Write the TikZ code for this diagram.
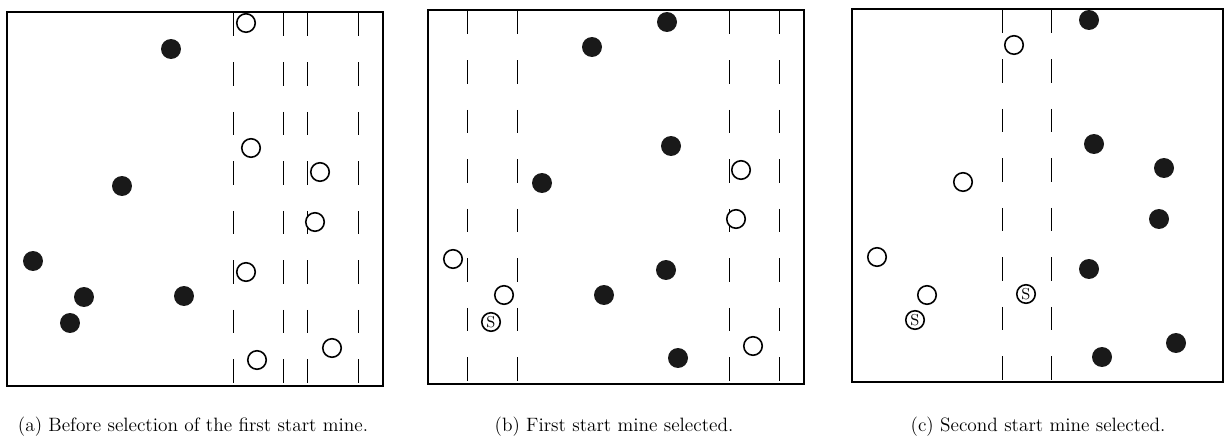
\documentclass[tikz,border=0pt]{standalone}
\usepackage{tikz}
\usetikzlibrary{positioning}
\tikzset{
  minefull/.style={circle,fill=black!90,inner sep=0pt,minimum size=0.4cm},
  mineopen/.style={circle,draw=black,line width=0.9pt,fill=white,inner sep=0pt,
    minimum size=0.37cm},
  minestart/.style={circle,draw=black,line width=0.9pt,fill=white,inner sep=0pt,
    minimum size=0.37cm,font=\small},
  fieldbox/.style={draw=black,line width=0.6pt},
  zoneline/.style={draw=black,line width=0.55pt,dash pattern=on 0.47cm off 0.52cm},
  caption/.style={font=\fontsize{11}{13}\selectfont,inner sep=0pt}
}

\begin{document}
\begin{tikzpicture}[x=0.02cm,y=-0.02cm]
\useasboundingbox (0,0) rectangle (1225,439);

% (a) before selection
\draw[fieldbox] (7,12) rectangle (383,386);
\draw[zoneline] (233,13) -- (233,386);
\draw[zoneline] (283,13) -- (283,386);
\draw[zoneline] (307,13) -- (307,386);
\draw[zoneline] (358,13) -- (358,386);

\node[minefull] (a1) at (171,49) {};
\node[minefull] (a2) at (122,186) {};
\node[minefull] (a3) at (33,261) {};
\node[minefull] (a4) at (84,297) {};
\node[minefull] (a5) at (70,323) {};
\node[minefull] (a6) at (184,296) {};
\node[mineopen] (a7) at (246,23) {};
\node[mineopen] (a8) at (251,148) {};
\node[mineopen] (a9) at (320,172) {};
\node[mineopen] (a10) at (315,222) {};
\node[mineopen] (a11) at (246,272) {};
\node[mineopen] (a12) at (257,360) {};
\node[mineopen] (a13) at (332,348) {};

\node[caption] (capa) at (193,427) {(a) Before selection of the first start mine.};

% (b) first start mine
\draw[fieldbox] (428,10) rectangle (804,384);
\draw[zoneline] (467,11) -- (467,384);
\draw[zoneline] (517,11) -- (517,384);
\draw[zoneline] (729,11) -- (729,384);
\draw[zoneline] (779,11) -- (779,384);

\node[minefull] (b1) at (667,22) {};
\node[minefull] (b2) at (592,47) {};
\node[minefull] (b3) at (671,146) {};
\node[minefull] (b4) at (542,183) {};
\node[minefull] (b5) at (666,270) {};
\node[minefull] (b6) at (604,295) {};
\node[minefull] (b7) at (678,358) {};
\node[mineopen] (b8) at (741,170) {};
\node[mineopen] (b9) at (736,219) {};
\node[mineopen] (b10) at (453,259) {};
\node[mineopen] (b11) at (504,295) {};
\node[mineopen] (b12) at (753,346) {};
\node[minestart] (bs1) at (491,322) {S};

\node[caption] (capb) at (614,427) {(b) First start mine selected.};

% (c) second start mine
\draw[fieldbox] (852,9) rectangle (1223,382);
\draw[zoneline] (1002,10) -- (1002,382);
\draw[zoneline] (1051,10) -- (1051,382);

\node[minefull] (c1) at (1089,20) {};
\node[minefull] (c2) at (1094,144) {};
\node[minefull] (c3) at (1164,168) {};
\node[minefull] (c4) at (1159,219) {};
\node[minefull] (c5) at (1089,269) {};
\node[minefull] (c6) at (1176,343) {};
\node[minefull] (c7) at (1102,357) {};
\node[mineopen] (c8) at (1014,45) {};
\node[mineopen] (c9) at (963,182) {};
\node[mineopen] (c10) at (877,257) {};
\node[mineopen] (c11) at (927,295) {};
\node[minestart] (cs1) at (915,320) {S};
\node[minestart] (cs2) at (1026,294) {S};

\node[caption] (capc) at (1038,427) {(c) Second start mine selected.};

\end{tikzpicture}
\end{document}
